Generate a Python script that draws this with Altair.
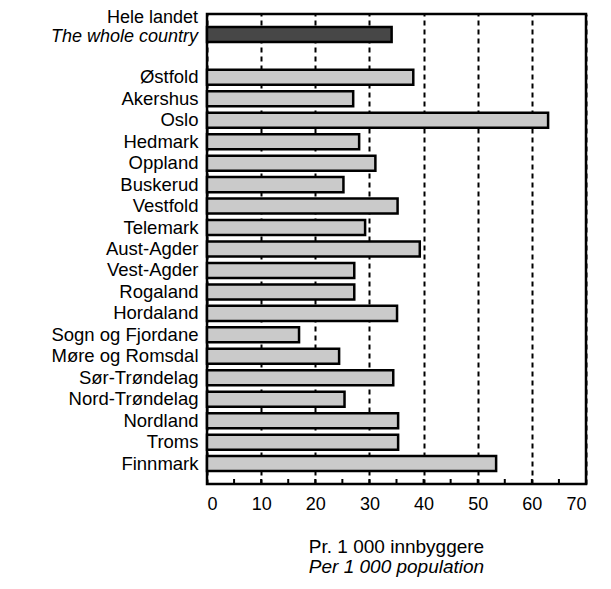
import altair as alt
import pandas as pd

# ---- data ----
row_order = ["Hele landet", " ", "Østfold", "Akershus", "Oslo", "Hedmark", "Oppland",
             "Buskerud", "Vestfold", "Telemark", "Aust-Agder", "Vest-Agder", "Rogaland",
             "Hordaland", "Sogn og Fjordane", "Møre og Romsdal", "Sør-Trøndelag",
             "Nord-Trøndelag", "Nordland", "Troms", "Finnmark"]
regions = ["Hele landet", "Østfold", "Akershus", "Oslo", "Hedmark", "Oppland",
           "Buskerud", "Vestfold", "Telemark", "Aust-Agder", "Vest-Agder", "Rogaland",
           "Hordaland", "Sogn og Fjordane", "Møre og Romsdal", "Sør-Trøndelag",
           "Nord-Trøndelag", "Nordland", "Troms", "Finnmark"]
values = [34.1, 38.1, 27.0, 63.0, 28.1, 31.1, 25.2, 35.2, 29.2, 39.3, 27.2, 27.2,
          35.1, 17.0, 24.4, 34.4, 25.4, 35.3, 35.3, 53.4]
kinds = ["total"] + ["county"] * 19
x_labels = [0, 10, 20, 30, 40, 50, 60, 70]
minor_ticks = [5, 10, 15, 20, 25, 30, 35, 40, 45, 50, 55, 60, 65]
total_line1 = ["Hele landet"]
total_line2 = ["The whole country"]

FONT = "Liberation Sans"
W, H = 379, 470
LABEL_SIZE = 18.5

df = pd.DataFrame({"region": regions, "value": values, "kind": kinds})
ticks_df = pd.DataFrame({"t": minor_ticks})
l1_df = pd.DataFrame({"region": ["Hele landet"], "label": total_line1})
l2_df = pd.DataFrame({"region": ["Hele landet"], "label": total_line2})

yscale = alt.Scale(domain=row_order, paddingInner=0.3, paddingOuter=0.6)
xscale = alt.Scale(domain=[0, 70], nice=False)

bars = alt.Chart(df).mark_bar(stroke="black", strokeWidth=2.5).encode(
    y=alt.Y("region:N", scale=yscale, sort=None,
            axis=alt.Axis(title=None, domain=False, ticks=False, labelFontSize=LABEL_SIZE,
                          labelFont=FONT, labelColor="black", labelPadding=9,
                          labelLimit=300,
                          labelExpr="datum.value == 'Hele landet' ? '' : datum.value")),
    x=alt.X("value:Q", scale=xscale,
            axis=alt.Axis(title=None, values=x_labels, grid=True, gridDash=[5, 4],
                          gridColor="black", gridWidth=2, gridOpacity=1, ticks=False,
                          domain=False, labelFontSize=18, labelFont=FONT,
                          labelColor="black", labelPadding=11)),
    color=alt.Color("kind:N", scale=alt.Scale(domain=["total", "county"],
                                              range=["#474747", "#cacaca"]),
                    legend=None),
)

tick_marks = alt.Chart(ticks_df).mark_rule(color="black", strokeWidth=2).encode(
    x=alt.X("t:Q", scale=xscale),
    y=alt.value(H - 5),
    y2=alt.value(H),
)

line1 = alt.Chart(l1_df).mark_text(align="right", baseline="middle", dy=-16,
                                   fontSize=18, font=FONT, color="black").encode(
    y=alt.Y("region:N", scale=yscale, sort=None),
    x=alt.value(-9),
    text="label:N",
)
line2 = alt.Chart(l2_df).mark_text(align="right", baseline="middle", dy=3,
                                   fontSize=18, font=FONT, fontStyle="italic",
                                   color="black").encode(
    y=alt.Y("region:N", scale=yscale, sort=None),
    x=alt.value(-9),
    text="label:N",
)

chart = alt.layer(bars, tick_marks, line1, line2).properties(
    width=W, height=H,
    background="white",
    autosize=alt.AutoSizeParams(type="none"),
    padding={"left": 199, "top": 6, "right": 17, "bottom": 103},
    title=alt.TitleParams(text="Pr. 1 000 innbyggere", subtitle="Per 1 000 population",
                          orient="bottom", anchor="middle", fontSize=19,
                          subtitleFontSize=19, font=FONT, subtitleFont=FONT,
                          fontWeight="normal", subtitleFontStyle="italic",
                          color="black", subtitleColor="black", offset=25,
                          subtitlePadding=1),
).configure_view(stroke="black", strokeWidth=2.5)

chart.save("out.html", embed_options={"renderer": "svg", "actions": False})
